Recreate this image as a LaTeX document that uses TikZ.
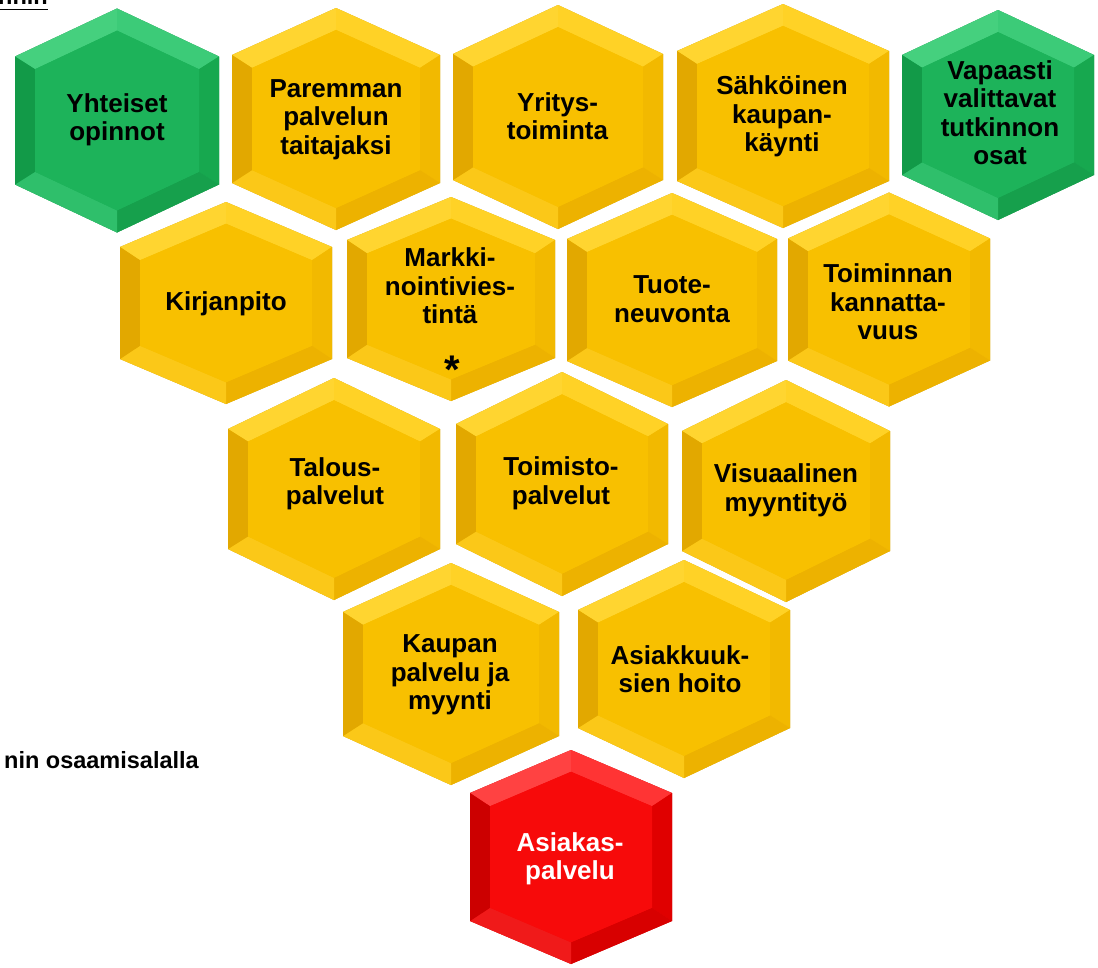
\documentclass[tikz,border=0pt]{standalone}
\usepackage{fontspec}
\setmainfont{Liberation Sans}
\definecolor{Yface}{HTML}{F8C000}
\definecolor{Ytl}{HTML}{FFD530}
\definecolor{Ytr}{HTML}{FFD226}
\definecolor{Yr}{HTML}{F2B900}
\definecolor{Ybr}{HTML}{EDB200}
\definecolor{Ybl}{HTML}{FBC818}
\definecolor{Yl}{HTML}{E2A800}
\definecolor{Gface}{HTML}{1DB35A}
\definecolor{Gtl}{HTML}{45D07E}
\definecolor{Gtr}{HTML}{3CCB78}
\definecolor{Gr}{HTML}{17A84F}
\definecolor{Gbr}{HTML}{16A04C}
\definecolor{Gbl}{HTML}{2FBF6B}
\definecolor{Gl}{HTML}{129A48}
\definecolor{Rface}{HTML}{F70A0A}
\definecolor{Rtl}{HTML}{FF4242}
\definecolor{Rtr}{HTML}{FF3434}
\definecolor{Rr}{HTML}{E00000}
\definecolor{Rbr}{HTML}{D80000}
\definecolor{Rbl}{HTML}{F01A1A}
\definecolor{Rl}{HTML}{CC0000}
\newcommand\hexshape[6]{%
  \pgfmathsetmacro\hw{#3}\pgfmathsetmacro\hh{#4}\pgfmathsetmacro\hs{#5}%
  \pgfmathsetmacro\hm{(\hh-\hs)/\hw}%
  \pgfmathsetmacro\hk{20*sqrt(1+\hm*\hm)}%
  \pgfmathsetmacro\iw{\hw-20}%
  \pgfmathsetmacro\ih{\hh-\hk}%
  \pgfmathsetmacro\is{\ih-\hm*\iw}%
  \begin{scope}[shift={(#1,#2)}]
    \coordinate (oT) at (0,-\hh);
    \coordinate (oUR) at (\hw,-\hs);
    \coordinate (oLR) at (\hw,\hs);
    \coordinate (oB) at (0,\hh);
    \coordinate (oLL) at (-\hw,\hs);
    \coordinate (oUL) at (-\hw,-\hs);
    \coordinate (iT) at (0,-\ih);
    \coordinate (iUR) at (\iw,-\is);
    \coordinate (iLR) at (\iw,\is);
    \coordinate (iB) at (0,\ih);
    \coordinate (iLL) at (-\iw,\is);
    \coordinate (iUL) at (-\iw,-\is);
    \fill[black,opacity=.12,shift={(5,6)}] (oT)--(oUR)--(oLR)--(oB)--(oLL)--(oUL)--cycle;
    \fill[black,opacity=.18,shift={(2.5,3.5)}] (oT)--(oUR)--(oLR)--(oB)--(oLL)--(oUL)--cycle;
    \fill[#6face] (oT)--(oUR)--(oLR)--(oB)--(oLL)--(oUL)--cycle;
    \fill[#6tl] (oUL)--(oT)--(iT)--(iUL)--cycle;
    \fill[#6tr] (oT)--(oUR)--(iUR)--(iT)--cycle;
    \fill[#6r] (oUR)--(oLR)--(iLR)--(iUR)--cycle;
    \fill[#6br] (oLR)--(oB)--(iB)--(iLR)--cycle;
    \fill[#6bl] (oB)--(oLL)--(iLL)--(iB)--cycle;
    \fill[#6l] (oLL)--(oUL)--(iUL)--(iLL)--cycle;
    \fill[#6face] (iT)--(iUR)--(iLR)--(iB)--(iLL)--(iUL)--cycle;
  \end{scope}}
\tikzset{
  lbl/.style={font=\fontsize{26}{28.5}\selectfont\bfseries, align=center, inner sep=0pt,
    execute at begin node=\strut, execute at end node=\strut},
  side/.style={font=\fontsize{23.5}{26}\selectfont\bfseries, inner sep=0pt}
}
\begin{document}
\begin{tikzpicture}[x=1pt,y=-1pt]
\useasboundingbox (0,0) rectangle (1098,967);
% partly visible heading at the top edge
\begin{scope}
  \clip (0,0) rectangle (60,12);
  \node[side, anchor=base east] (head) at (48,4) {nnin};
\end{scope}
\draw[line width=1.6pt] (0,9.5) -- (48,9.5);
\node[side, anchor=base east] (note) at (199,768) {nin osaamisalalla};
% row 1
\hexshape{117}{120.5}{102}{112}{64}{G}
\hexshape{336}{119}{104}{111}{64}{Y}
\hexshape{558}{117}{105}{112}{63}{Y}
\hexshape{783}{116}{106}{112}{65}{Y}
\hexshape{998}{115}{96}{105}{60}{G}
% row 2
\hexshape{226}{303}{106}{101}{56}{Y}
\hexshape{451}{299}{104}{102}{59}{Y}
\hexshape{672}{300}{105}{107}{61}{Y}
\hexshape{889}{299.5}{101}{107}{61}{Y}
% row 3
\hexshape{334}{489}{106}{111}{60}{Y}
\hexshape{562}{484}{106}{112}{60}{Y}
\hexshape{786}{491}{104}{111}{60}{Y}
% row 4
\hexshape{451}{674}{108}{111}{62}{Y}
\hexshape{684}{669}{106}{109}{59}{Y}
% row 5
\hexshape{571}{857}{101}{107}{64}{R}
% labels
\node[lbl] (yht) at (117,121.5) {Yhteiset\\opinnot};
\node[lbl] (par) at (336,121) {Paremman\\palvelun\\taitajaksi};
\node[lbl] (yri) at (557.5,120.5) {Yritys-\\toiminta};
\node[lbl] (sah) at (782,118) {Sähköinen\\kaupan-\\käynti};
\node[lbl] (vap) at (1000,117) {Vapaasti\\valittavat\\tutkinnon\\osat};
\node[lbl] (kir) at (226,305) {Kirjanpito};
\node[lbl] (mar) at (450,290) {Markki-\\nointivies-\\tintä};
\node[font=\fontsize{40}{40}\selectfont\bfseries, inner sep=0pt] (star) at (452,370) {*};
\node[lbl] (tuo) at (672,303.5) {Tuote-\\neuvonta};
\node[lbl] (toi) at (888,306) {Toiminnan\\kannatta-\\vuus};
\node[lbl] (tal) at (335,485.5) {Talous-\\palvelut};
\node[lbl] (tst) at (561,485) {Toimisto-\\palvelut};
\node[lbl] (vis) at (786,492) {Visuaalinen\\myyntityö};
\node[lbl] (kau) at (450,676.5) {Kaupan\\palvelu ja\\myynti};
\node[lbl] (ahk) at (680,673.5) {Asiakkuuk-\\sien hoito};
\node[lbl, text=white] (asp) at (570,860.5) {Asiakas-\\palvelu};
\end{tikzpicture}
\end{document}
